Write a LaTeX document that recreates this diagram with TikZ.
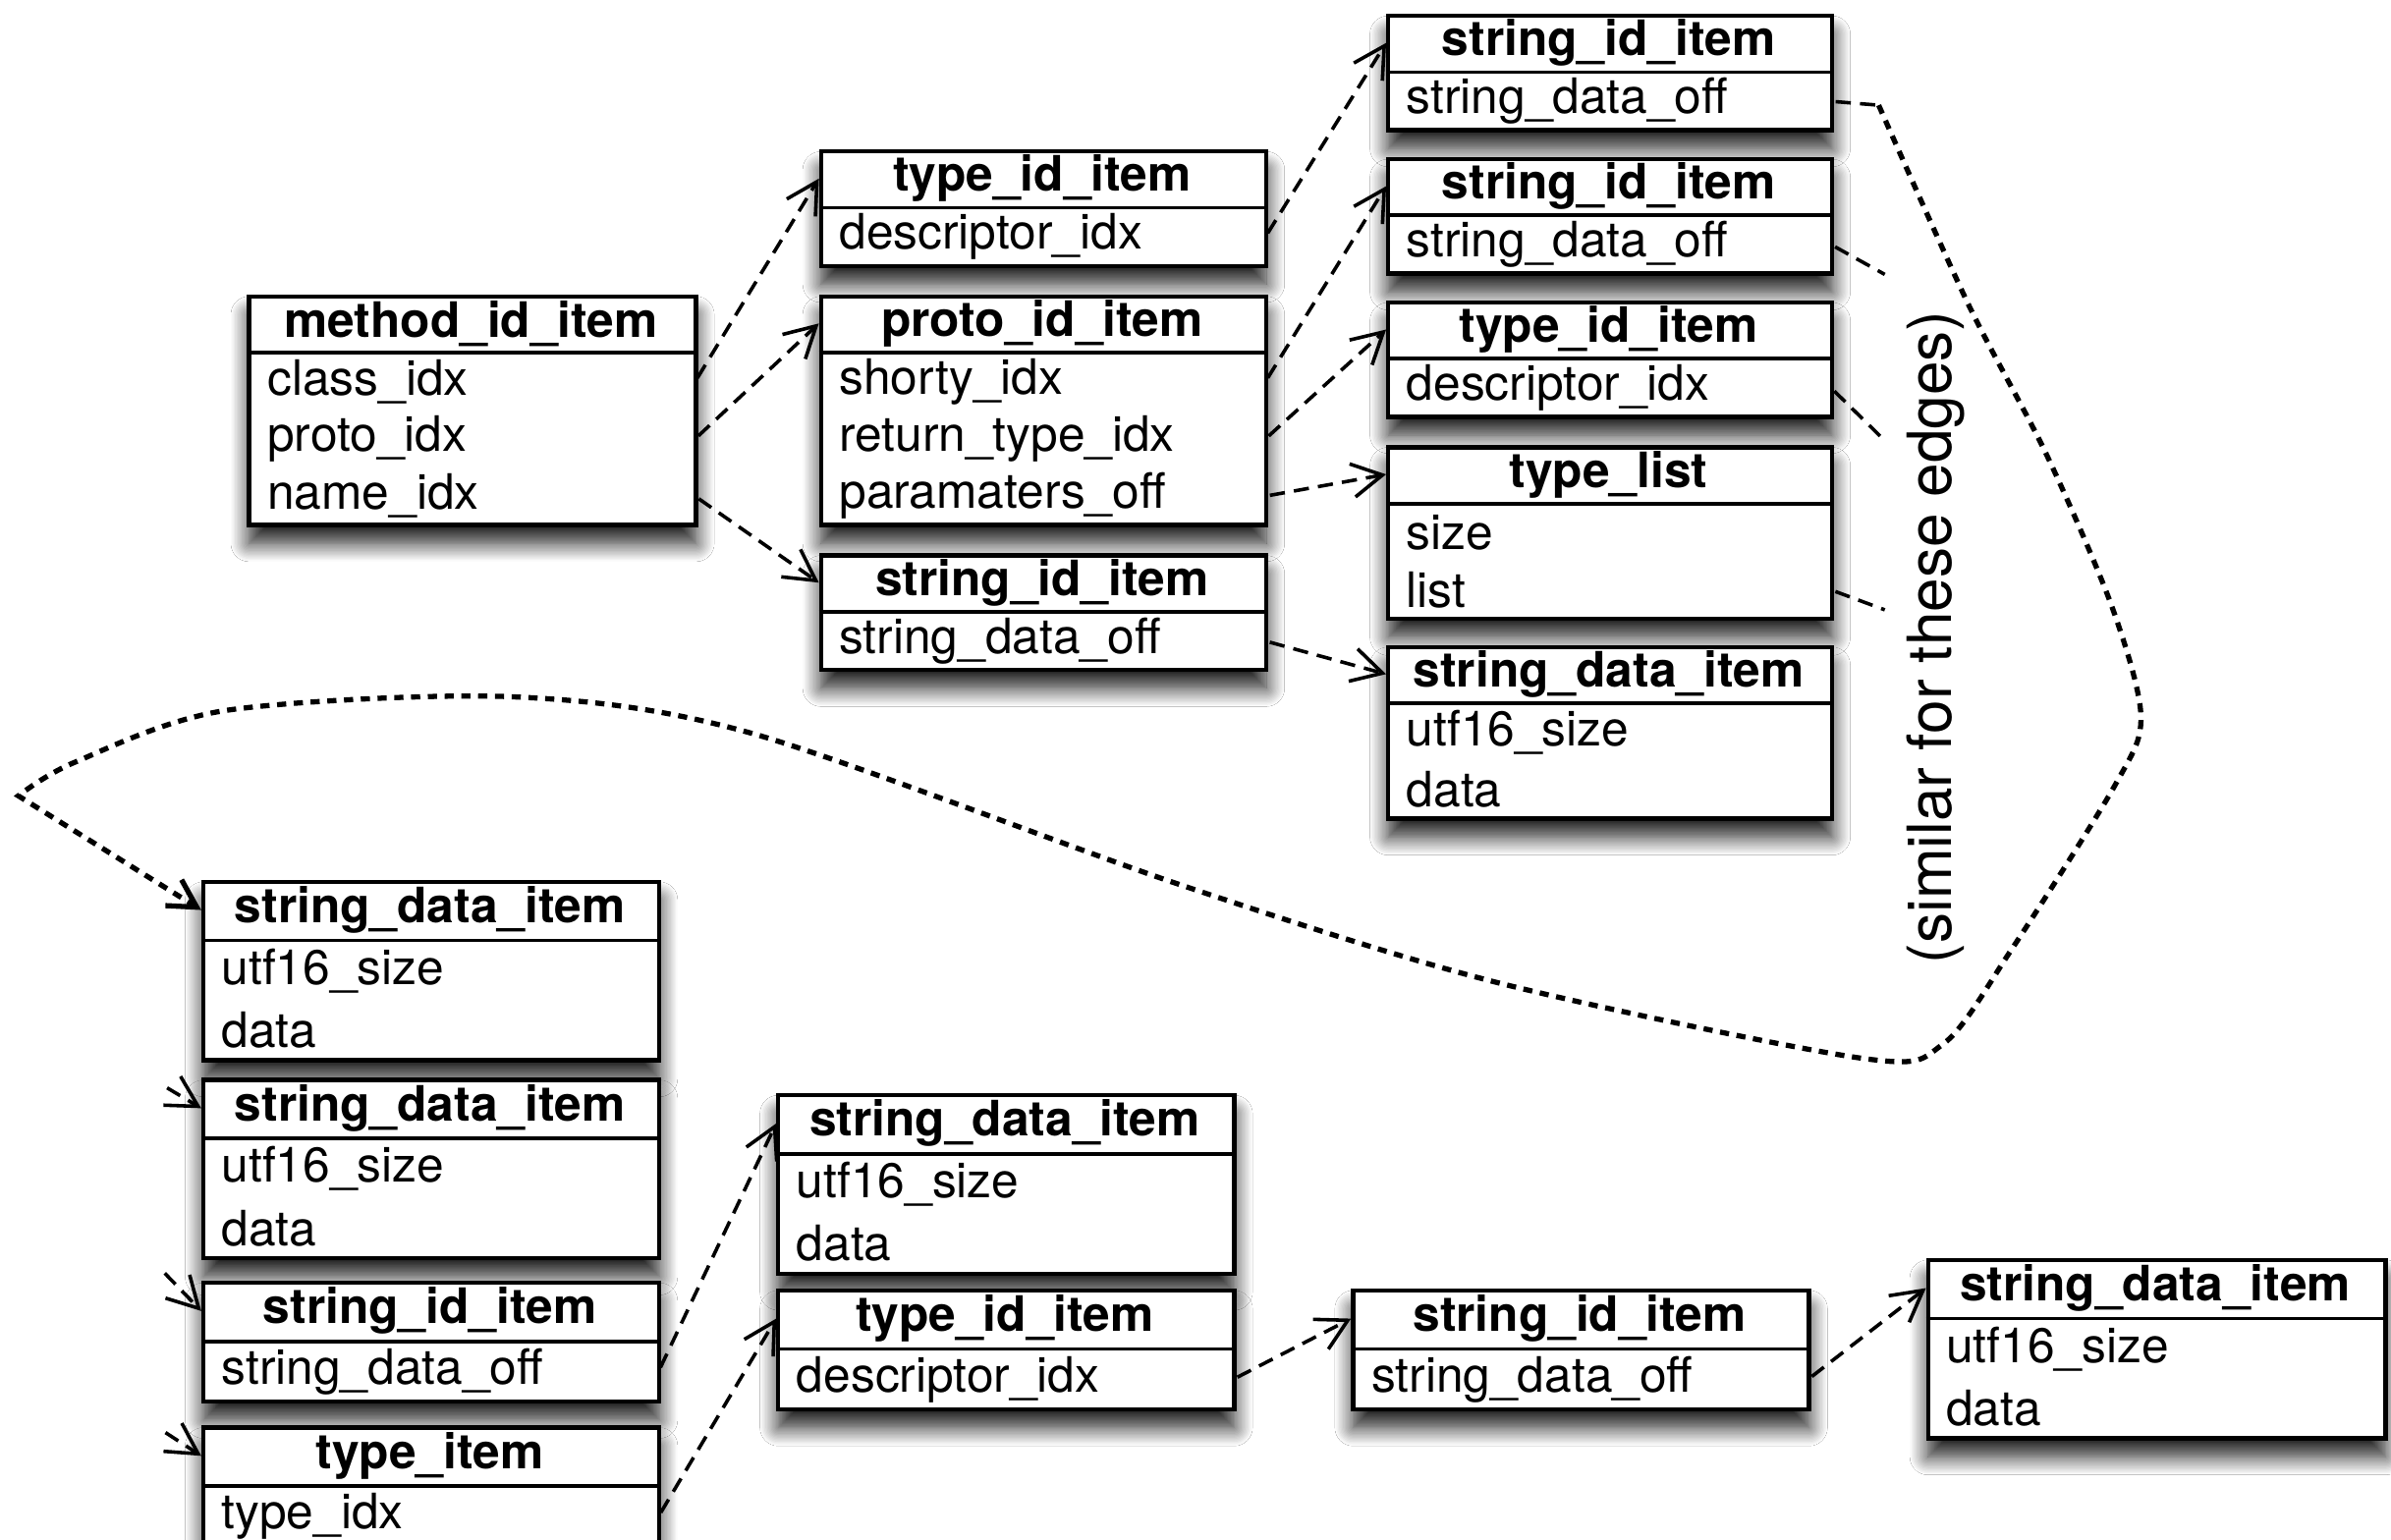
\documentclass[tikz,border=0pt]{standalone}
\usepackage{fontspec}
\setmainfont{TeX Gyre Heros}
\usetikzlibrary{calc,arrows.meta,shadows.blur}
\begin{document}
\def\rh{37.5}
\tikzset{
  boxframe/.style={draw=black, line width=1.4pt, fill=white, inner sep=0pt, anchor=north west,
    blur shadow={shadow xshift=0pt, shadow yshift=-6pt, shadow blur radius=6pt, shadow blur steps=14, shadow opacity=90}},
  hdr/.style={inner sep=0pt, anchor=north west, font=\bfseries\fontsize{16}{19}\selectfont, align=center},
  rowt/.style={inner xsep=6.5pt, inner ysep=0pt, anchor=north west, font=\fontsize{16}{19}\selectfont, align=left},
  sepl/.style={line width=1.2pt},
  connx/.style={line width=1.15pt, dash pattern=on 5pt off 3pt, shorten <=1.5pt, -{Straight Barb[length=10pt,width=11pt]}},
  stubx/.style={line width=1.15pt, dash pattern=on 5pt off 3pt, shorten <=1.5pt},
  dotconn/.style={line width=1.7pt, dash pattern=on 3pt off 2.5pt, -{Straight Barb[length=9pt,width=10pt]}},
  lbl/.style={inner sep=0pt, font=\fontsize{20}{24}\selectfont}
}
\newcommand{\umlbox}[7]{%
  \pgfmathsetlengthmacro{\bw}{#4*0.5pt}%
  \pgfmathsetlengthmacro{\bh}{(#6+1)*\rh*0.5pt}%
  \pgfmathsetlengthmacro{\hh}{\rh*0.5pt}%
  \pgfmathsetlengthmacro{\tw}{#4*0.5pt-13pt}%
  \node[boxframe, minimum width=\bw, minimum height=\bh] (#1-box) at (#2,#3) {};
  \node[hdr, minimum width=\bw, minimum height=\hh] (#1) at (#2,#3) {#5};
  \draw[sepl] (#1.south west) -- (#1.south east);
  \foreach \rowtext [count=\i] in {#7} {
    \node[rowt, text width=\tw, minimum height=\hh] (#1-\i) at ($(#1.south west)+(0,{(\i-1)*\rh})$) {\rowtext};
  }%
}
\begin{tikzpicture}[x=0.5pt, y=-0.5pt]
\fill[white] (0,0) rectangle (1568,1010);
\useasboundingbox (0,0) rectangle (1568,1010);
\clip (0,0) rectangle (1568,1010);

% upper group
\umlbox{m}{162}{193}{293}{method\_id\_item}{3}{class\_idx, proto\_idx, name\_idx}
\umlbox{t1}{537}{98}{292}{type\_id\_item}{1}{descriptor\_idx}
\umlbox{p}{537}{193}{292}{proto\_id\_item}{3}{shorty\_idx, return\_type\_idx, paramaters\_off}
\umlbox{s1}{537}{363}{292}{string\_id\_item}{1}{string\_data\_off}
\umlbox{sa}{909}{9}{291}{string\_id\_item}{1}{string\_data\_off}
\umlbox{sb}{909}{103}{291}{string\_id\_item}{1}{string\_data\_off}
\umlbox{tb}{909}{197}{291}{type\_id\_item}{1}{descriptor\_idx}
\umlbox{tl}{909}{292}{291}{type\_list}{2}{size, list}
\umlbox{sd}{909}{423}{291}{string\_data\_item}{2}{utf16\_size, data}

% lower group
\def\rh{39}
\umlbox{L1}{132}{577}{299}{string\_data\_item}{2}{utf16\_size, data}
\umlbox{L2}{132}{707}{299}{string\_data\_item}{2}{utf16\_size, data}
\umlbox{L3}{132}{840}{299}{string\_id\_item}{1}{string\_data\_off}
\umlbox{L4}{132}{935}{299}{type\_item}{1}{type\_idx}
\umlbox{M1}{509}{717}{299}{string\_data\_item}{2}{utf16\_size, data}
\umlbox{M2}{509}{845}{299}{type\_id\_item}{1}{descriptor\_idx}
\umlbox{M3}{886}{845}{299}{string\_id\_item}{1}{string\_data\_off}
\umlbox{R}{1263}{825}{300}{string\_data\_item}{2}{utf16\_size, data}

% connectors, upper
\draw[connx] (m-1.east) -- (t1.west);
\draw[connx] (m-2.east) -- (p.west);
\draw[connx] (m-3.east) -- (s1.west);
\draw[connx] (t1-1.east) -- (sa.west);
\draw[connx] (p-1.east) -- (sb.west);
\draw[connx] (p-2.east) -- (tb.west);
\draw[connx] (p-3.east) -- (tl.west);
\draw[connx] (s1-1.east) -- (sd.west);

% stubs on the right
\coordinate (c0) at (1232,69);
\coordinate (cb) at (1236,180);
\coordinate (ct) at (1236,289);
\coordinate (cl) at (1236,400);
\draw[stubx] (sa-1.east) -- (c0);
\draw[stubx] (sb-1.east) -- (cb);
\draw[stubx] (tb-1.east) -- (ct);
\draw[stubx] (tl-2.east) -- (cl);

% long dotted edge
\draw[dotconn] plot[smooth, tension=0.5] coordinates {(1232,69) (1291,200) (1342,298) (1385,398) (1404,470) (1387,515) (1319,623) (1274,685) (1220,694) (980,644) (773,580) (493,481) (335,457) (148,466) (49,500) (12,522)} -- (L1.west);

% incoming stubs on the left column
\coordinate (q2) at (107,712);
\coordinate (q3) at (106,833);
\coordinate (q4) at (106,938);
\draw[connx] (q2) -- (L2.west);
\draw[connx] (q3) -- (L3.west);
\draw[connx] (q4) -- (L4.west);

% connectors, lower
\draw[connx] (L3-1.east) -- (M1.west);
\draw[connx] (L4-1.east) -- (M2.west);
\draw[connx] (M2-1.east) -- (M3.west);
\draw[connx] (M3-1.east) -- (R.west);

% note
\node[lbl, rotate=90, anchor=base] (note) at (1280,418) {(similar for these edges)};
\end{tikzpicture}
\end{document}
